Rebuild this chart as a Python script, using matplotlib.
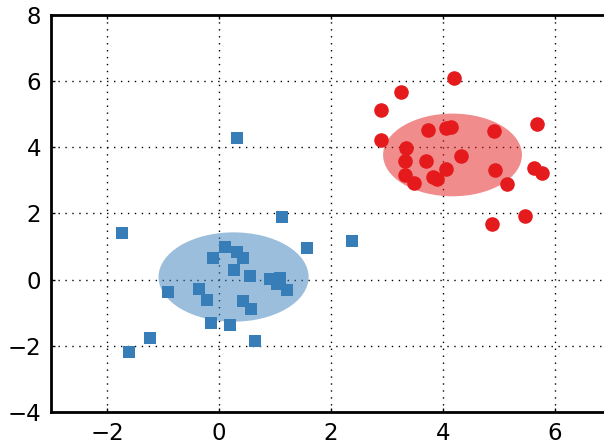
import matplotlib
matplotlib.use("Agg")
import matplotlib.pyplot as plt
from matplotlib.patches import Ellipse

blue_x = [-1.73, -1.61, -1.23, -0.91, -0.36, -0.22, -0.14, -0.10, 0.11, 0.32, 0.42,
          0.27, 0.33, 0.55, 0.20, 0.42, 0.58, 0.64, 0.91, 1.09, 1.03, 1.21, 1.12, 1.57, 2.38]
blue_y = [1.42, -2.20, -1.76, -0.36, -0.29, -0.61, -1.31, 0.64, 0.98, 0.84, 0.65,
          0.28, 4.27, 0.12, -1.37, -0.63, -0.90, -1.84, 0.01, 0.06, -0.14, -0.32, 1.90, 0.96, 1.18]

red_x = [4.20, 3.25, 2.90, 2.89, 3.73, 4.05, 4.14, 4.91, 5.67, 3.34, 3.32, 3.69, 4.33,
         4.06, 3.32, 3.48, 3.82, 3.90, 4.92, 5.63, 5.76, 5.14, 5.47, 4.88]
red_y = [6.09, 5.67, 5.13, 4.22, 4.51, 4.57, 4.61, 4.48, 4.72, 3.98, 3.59, 3.60, 3.73,
         3.35, 3.15, 2.91, 3.10, 3.04, 3.30, 3.38, 3.22, 2.88, 1.93, 1.69]

blue_center = (0.26, 0.08)
blue_size = (2.68, 2.70)
red_center = (4.17, 3.77)
red_size = (2.48, 2.50)

xticks = [-2, 0, 2, 4, 6]
yticks = [-4, -2, 0, 2, 4, 6, 8]

BLUE = "#377eb8"
RED = "#e41a1c"

fig = plt.figure(figsize=(6.04, 4.44), dpi=100)
ax = fig.add_axes([51/604, 1 - 412/444, 560/604, (412-15)/444])

ax.add_patch(Ellipse(blue_center, blue_size[0], blue_size[1], color=BLUE, alpha=0.5, lw=0, zorder=1))
ax.add_patch(Ellipse(red_center, red_size[0], red_size[1], color=RED, alpha=0.5, lw=0, zorder=1))

ax.scatter(blue_x, blue_y, marker="s", s=85, color=BLUE, linewidths=0, zorder=3)
ax.scatter(red_x, red_y, marker="o", s=110, color=RED, linewidths=0, zorder=3)

ax.set_xlim(-3, 7)
ax.set_ylim(-4, 8)
ax.set_xticks(xticks)
ax.set_yticks(yticks)
ax.grid(True, color="black", linestyle=(0, (1, 4)), linewidth=1.0)
ax.set_axisbelow(True)
ax.tick_params(direction="in", length=3, width=1, labelsize=16.5, pad=7,
               top=True, right=True)
for sp in ax.spines.values():
    sp.set_linewidth(2)

fig.savefig("out.png", dpi=100)
